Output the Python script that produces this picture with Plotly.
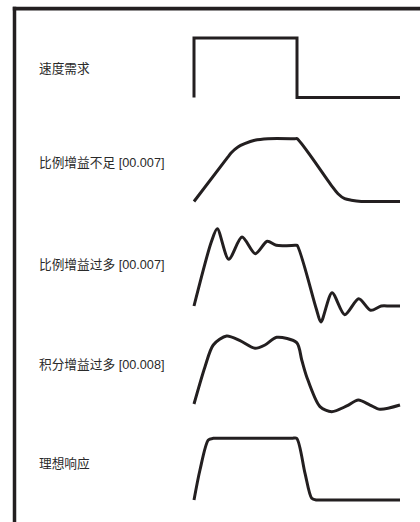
import plotly.graph_objects as go

# ---- data (time normalised: demand step on at t=0, off at t=1) ----
labels = ["速度需求", "比例增益不足 [00.007]", "比例增益过多 [00.007]",
          "积分增益过多 [00.008]", "理想响应"]

t_demand = [0, 0, 1, 1, 2]
v_demand = [0, 1, 1, 0, 0]

t_low_p = [0, 0.33, 0.362, 0.427, 0.492, 0.589, 0.718, 0.98, 1.0, 1.333, 1.398,
           1.463, 1.527, 1.624, 1.7, 2.0]
v_low_p = [0, 0.71, 0.777, 0.868, 0.92, 0.975, 1.0, 1.0, 1.0, 0.258, 0.124,
           0.045, 0.02, 0.0, 0.0, 0.0]

t_high_p = [0, 0.168, 0.226, 0.337, 0.466, 0.595, 0.711, 0.799, 0.98, 1.0, 1.187,
            1.232, 1.340, 1.463, 1.599, 1.715, 1.818, 1.9, 2.0]
v_high_p = [0, 1.054, 1.273, 0.769, 1.137, 0.862, 1.066, 1.0, 1.0, 1.0, -0.044,
            -0.264, 0.219, -0.143, 0.120, -0.071, 0.0, 0.0, 0.0]

t_high_i = [0, 0.107, 0.187, 0.317, 0.447, 0.592, 0.689, 0.803, 0.997, 1.046, 1.094,
            1.223, 1.337, 1.483, 1.595, 1.709, 1.806, 2.0]
v_high_i = [0, 0.583, 0.922, 1.0625, 0.989, 0.870, 0.922, 1.042, 0.958, 0.6875, 0.427,
            -0.042, -0.120, -0.031, 0.0625, -0.016, -0.083, -0.016]

t_ideal = [0, 0.058, 0.139, 0.187, 0.25, 0.95, 0.997, 1.078, 1.143, 1.191, 1.25, 2.0]
v_ideal = [0, 0.486, 0.972, 1.0, 1.0, 1.0, 1.0, 0.433, 0.028, 0.0, 0.0, 0.0]

series = [(t_demand, v_demand, "linear"),
          (t_low_p, v_low_p, "spline"),
          (t_high_p, v_high_p, "spline"),
          (t_high_i, v_high_i, "spline"),
          (t_ideal, v_ideal, "spline")]

# ---- layout geometry (pixels) ----
W, H = 420, 522
INK = "#231f20"
x0_px, x_unit = 194.0, 103.0          # t=0 pixel and pixels per time unit
xr = [-0.05, 2.05]
# (pixel of value 0, pixel of value 1) for each panel
panel_px = [(97.5, 38.0), (201.5, 138.7), (306.0, 245.3), (404.0, 340.0), (500.0, 438.3)]
label_px = [68, 163, 265, 365, 463]
yr = [-0.35, 1.35]

fig = go.Figure()
layout_axes = {}
xd = [(x0_px + xr[0] * x_unit) / W, (x0_px + xr[1] * x_unit) / W]
layout_axes["xaxis"] = dict(domain=xd, range=xr, visible=False, fixedrange=True)

for i, ((t, v, shape), (p0, p1)) in enumerate(zip(series, panel_px)):
    s = p0 - p1
    top_px = p1 - (yr[1] - 1) * s
    bot_px = p0 - yr[0] * s
    dom = [max(0, 1 - bot_px / H), min(1, 1 - top_px / H)]
    name = "yaxis" if i == 0 else f"yaxis{i+1}"
    ref = "y" if i == 0 else f"y{i+1}"
    layout_axes[name] = dict(domain=dom, range=yr, visible=False, fixedrange=True,
                             anchor="x")
    line = dict(color=INK, width=3, shape=shape)
    if shape == "spline":
        line["smoothing"] = 0.8
    fig.add_trace(go.Scatter(x=t, y=v, mode="lines", line=line,
                             xaxis="x", yaxis=ref, hoverinfo="skip",
                             showlegend=False))

annotations = [dict(text=lab, x=37 / W, y=1 - yp / H, xref="paper", yref="paper",
                    xanchor="left", yanchor="middle", showarrow=False,
                    font=dict(size=12.7, color="#2a2a2a",
                              family="Liberation Sans, Arial, Noto Sans CJK SC"))
               for lab, yp in zip(labels, label_px)]

shapes = [
    dict(type="line", xref="paper", yref="paper", x0=14.5 / W, x1=14.5 / W,
         y0=1 - 6.8 / H, y1=-0.02, line=dict(color=INK, width=3.5)),
    dict(type="line", xref="paper", yref="paper", x0=12.8 / W, x1=1.02,
         y0=1 - 8.7 / H, y1=1 - 8.7 / H, line=dict(color=INK, width=3.8)),
]

fig.update_layout(width=W, height=H, margin=dict(l=0, r=0, t=0, b=0, pad=0),
                  paper_bgcolor="white", plot_bgcolor="rgba(0,0,0,0)",
                  annotations=annotations, shapes=shapes, showlegend=False,
                  **layout_axes)

fig.write_html("out.html", config={"displayModeBar": False},
               post_script="document.body.style.margin='0';"
                           "document.body.style.overflow='hidden';")
